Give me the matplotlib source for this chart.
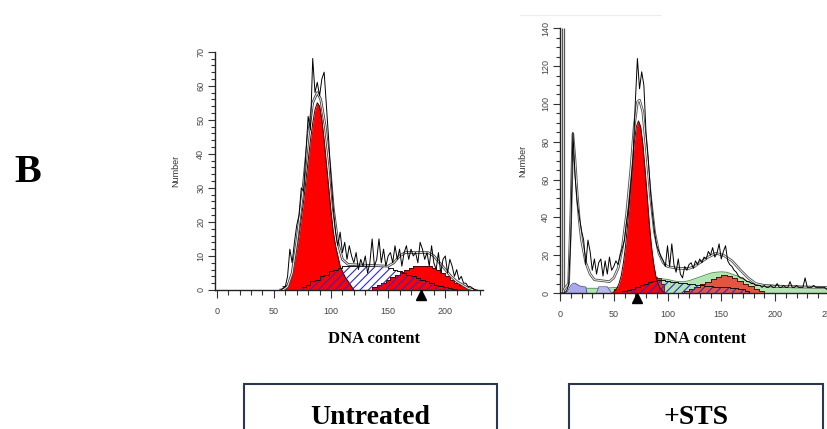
import matplotlib
matplotlib.use("Agg")
import matplotlib.pyplot as plt
import numpy as np
from matplotlib.patches import Rectangle
from matplotlib.lines import Line2D
from matplotlib.transforms import offset_copy
from matplotlib.ticker import MultipleLocator

plt.rcParams['hatch.linewidth'] = 0.8

# ---------------- Untreated panel data ----------------
ut_raw_start, ut_raw_step = 56, 2
ut_raw_y = [0, 0.5, 1, 4, 12, 8, 14, 19, 22, 30,
            29, 40, 51, 47, 68, 58, 61, 57, 62, 64,
            54, 44, 33, 24, 17, 13, 17, 11, 14, 9,
            13, 10, 8, 11, 6, 9, 7, 10, 5, 8,
            15, 7, 9, 15, 8, 12, 7, 10, 11, 8,
            13, 9, 12, 7, 11, 13, 9, 12, 10, 11,
            8, 14, 12, 9, 11, 7, 13, 8, 6, 11,
            5, 9, 10, 5, 9, 7, 4, 6, 3, 4,
            2, 2, 1, 1, 0.5, 0, 0]
ut_fit_x = [56, 58, 62, 66, 70, 75, 80, 84, 88, 91, 95, 99, 102, 106, 110, 115,
            150, 155, 160, 165, 185, 190, 195, 200, 205, 210, 215, 220, 225]
ut_fit_y = [0, 0, 1, 5, 14, 28, 45, 55, 58, 56, 48, 36, 24, 14, 9, 7.5,
            7, 8, 10, 11, 11, 10, 8, 6, 4, 2.5, 1.5, 0.5, 0]
ut_g1_start, ut_g1_step = 58, 2
ut_g1_y = [1, 1, 1.5, 3, 5, 8, 12, 16, 21, 26, 32, 38, 44, 49, 53, 55,
           54, 50, 44, 37, 30, 23, 17, 13, 10, 7, 5.5, 4, 3, 2, 1, 0]
ut_s_x = [75, 78, 82, 86, 90, 94, 98, 102, 106, 110, 150, 154, 158, 162, 166,
          170, 174, 178, 182, 186, 190, 194, 198, 202, 206, 210]
ut_s_y = [1, 1.5, 2.5, 3, 4, 4.5, 5.5, 6, 6.5, 7, 6.5, 6, 5.5, 5, 4.5,
          4, 3.5, 3, 2.5, 2, 1.5, 1.2, 1, 0.5, 0.3, 0]
ut_g2_x = [132, 136, 140, 144, 148, 152, 156, 160, 164, 168, 172, 176, 180,
           184, 188, 192, 196, 200, 204, 208, 212, 216, 220, 224, 226]
ut_g2_y = [0, 0.8, 1.5, 2.2, 3, 3.7, 4.5, 5.3, 6, 6.6, 7, 7, 7,
           7, 6.5, 6, 5, 4, 3, 2.2, 1.5, 1, 0.6, 0.3, 0]
ut_marker = 179

# ---------------- +STS panel data ----------------
sts_raw_start, sts_raw_step = 0, 2
sts_raw_y = [0, 0, 0, 1, 4, 30, 85, 62, 48, 40,
             33, 28, 15, 28, 22, 12, 18, 10, 16, 18,
             9, 17, 10, 19, 12, 14, 17, 15, 20, 24,
             28, 38, 46, 58, 72, 100, 124, 108, 117, 110,
             85, 72, 55, 42, 32, 25, 22, 19, 17, 14,
             25, 14, 26, 15, 11, 18, 10, 8, 14, 12,
             15, 16, 13, 17, 15, 18, 16, 19, 18, 22,
             20, 24, 19, 21, 26, 18, 22, 25, 17, 15,
             14, 12, 11, 9, 8, 8, 7, 6, 6, 5,
             5, 4, 4, 4, 3, 4, 3, 3, 4, 3,
             3, 5, 3, 3, 4, 3, 3, 6, 3, 3,
             4, 3, 3, 3, 8, 3, 3, 3, 4, 3,
             3, 3, 3, 3, 2, 2, 2, 2, 2]
sts_offscale_bins = [2, 4]
sts_fit_x = [4, 8, 10, 12, 14, 16, 18, 20, 24, 28, 32, 46, 50, 54, 58, 62, 66, 69, 72, 74,
             77, 80, 84, 88, 92, 96, 100, 110, 120, 125, 130, 138, 145, 152, 160, 168, 175,
             182, 190, 200, 220, 240, 260]
sts_fit_y = [2, 5, 40, 84, 70, 52, 38, 28, 16, 10, 7, 6, 8, 13, 24, 42, 66, 88, 101, 102,
             96, 78, 52, 32, 21, 16, 14, 13, 13, 14, 16, 19, 21, 20, 17, 12, 8,
             5, 4, 3.5, 3.2, 3, 3]
sts_debris_x = [6, 8, 10, 12, 14, 16, 18, 20, 22, 24, 25]
sts_debris_y = [0, 2, 4, 5, 5.2, 4.5, 3.8, 3.5, 3.3, 3.2, 0]
sts_debris2_x = [34, 36, 44, 48]
sts_debris2_y = [0, 3.3, 3.3, 0]
sts_green_x = [22, 24, 30, 40, 48, 56, 64, 72, 80, 86, 90, 95, 100, 105, 110, 115, 120, 125,
               130, 135, 140, 145, 150, 155, 160, 165, 170, 175, 180, 190, 200, 210, 220,
               230, 240, 250, 260]
sts_green_y = [0, 2.5, 2.5, 2.5, 2.8, 3, 3.5, 4.5, 5.5, 6.5, 7, 7.5, 7.2, 6.5, 6, 6, 6.5, 7.5,
               8.5, 9.5, 10.5, 11, 11.2, 11, 10, 9, 7.5, 6, 5, 4.5, 4.2, 4, 3.8,
               3.6, 3.5, 3.3, 3.2]
sts_dark_x = [48, 50, 54, 58, 62, 66, 70, 74, 78, 82, 86, 90, 94, 97]
sts_dark_y = [0, 2, 2.5, 3, 3.5, 3.5, 4, 5, 6.5, 8, 8.5, 8, 5, 0]
sts_g1_start, sts_g1_step = 49, 2
sts_g1_y = [0, 1.2, 2.6, 5.1, 9.3, 16, 25, 37, 52, 66, 79, 88, 91, 88, 79, 66, 52, 37,
            25, 16, 9.3, 5.1, 2.6, 1.2, 0]
sts_s_x = [58, 62, 66, 70, 74, 78, 82, 86, 90, 94, 98, 102, 110, 118, 126, 134, 142, 150,
           158, 166, 172, 176]
sts_s_y = [1, 1.5, 2, 3, 4, 5, 6, 6.5, 7, 7, 6.5, 6, 5.5, 5, 4, 3.5, 3, 3,
           2.5, 2, 1, 0]
sts_g2_x = [110, 115, 120, 125, 130, 135, 140, 145, 150, 155, 160, 165, 170, 175, 180, 185, 190]
sts_g2_y = [0, 1, 2, 3.2, 4.5, 6, 7.5, 8.5, 9.5, 9, 8, 6.5, 5, 3.5, 2.2, 1, 0]
sts_marker = 72

W, H = 827, 429
fig = plt.figure(figsize=(W / 100, H / 100), dpi=100)
fig.patch.set_facecolor('white')

SANS = ['Liberation Sans', 'DejaVu Sans']
SERIF = ['Liberation Serif', 'DejaVu Serif']


def px_axes(x0, x1, ytop, ybot):
    return fig.add_axes([x0 / W, 1 - ybot / H, (x1 - x0) / W, (ybot - ytop) / H])


def style(ax, xmaj, xmin, ymaj, ymin, ylab_x):
    for s in ('top', 'right'):
        ax.spines[s].set_visible(False)
    for s in ('left', 'bottom'):
        ax.spines[s].set_linewidth(1.0)
        ax.spines[s].set_color('#222222')
    ax.xaxis.set_major_locator(MultipleLocator(xmaj))
    ax.xaxis.set_minor_locator(MultipleLocator(xmin))
    ax.yaxis.set_major_locator(MultipleLocator(ymaj))
    ax.yaxis.set_minor_locator(MultipleLocator(ymin))
    ax.tick_params(axis='x', which='major', length=6, width=0.8, color='#333333',
                   labelsize=6.5, labelcolor='#444444', pad=6)
    ax.tick_params(axis='x', which='minor', length=3.5, width=0.8, color='#333333')
    ax.tick_params(axis='y', which='major', length=5, width=0.8, color='#333333',
                   labelsize=6.5, labelcolor='#444444', pad=2)
    ax.tick_params(axis='y', which='minor', length=3, width=0.8, color='#333333')
    for lab in ax.get_yticklabels():
        lab.set_rotation(90)
        lab.set_va('center')
        lab.set_family(SANS)
    for lab in ax.get_xticklabels():
        lab.set_family(SANS)
    ax.set_ylabel('Number', fontsize=6.5, color='#333333', family=SANS)
    ax.yaxis.set_label_coords(ylab_x, 0.5)
    ax.set_facecolor('none')


def hatch_fill(ax, x, y, z):
    ax.fill_between(x, y, step='post', facecolor='none', edgecolor='#2a2ad0',
                    hatch='////', linewidth=0, zorder=z)
    ax.step(x, y, where='post', color='#111111', lw=0.7, zorder=z + 0.1)


# ---------------- Left panel ----------------
axL = px_axes(215, 483, 51.7, 290)
axL.set_xlim(-1.5, 233)
axL.set_ylim(0, 70)

ut_raw_x = ut_raw_start + ut_raw_step * np.arange(len(ut_raw_y))
ut_g1_x = ut_g1_start + ut_g1_step * np.arange(len(ut_g1_y))

axL.fill_between(ut_g2_x, ut_g2_y, step='post', color='#ff0000', lw=0, zorder=2)
axL.step(ut_g2_x, ut_g2_y, where='post', color='#5a0000', lw=0.7, zorder=2.1)
axL.fill_between(ut_g1_x, ut_g1_y, color='#ff0000', lw=0, zorder=2.5)
axL.plot(ut_g1_x, ut_g1_y, color='#330000', lw=0.7, zorder=2.6)
hatch_fill(axL, ut_s_x, ut_s_y, 3)
axL.plot(ut_fit_x, ut_fit_y, color='#444444', lw=1.9, zorder=4)
axL.plot(ut_fit_x, ut_fit_y, color='white', lw=0.6, zorder=4.1)
axL.plot(ut_raw_x, ut_raw_y, color='black', lw=0.7, zorder=5)
axL.plot([ut_marker], [0], marker='^', ms=7, color='black', clip_on=False, zorder=6,
         transform=offset_copy(axL.transData, fig=fig, y=-5, units='dots'))
style(axL, 50, 10, 10, 2, -0.13)

# ---------------- Right panel ----------------
axR = px_axes(560, 560 + 260 * 1.075, 28.3, 293)
axR.set_xlim(0, 260)
axR.set_ylim(0, 140)

sts_raw_x = sts_raw_start + sts_raw_step * np.arange(len(sts_raw_y))
sts_g1_x = sts_g1_start + sts_g1_step * np.arange(len(sts_g1_y))

axR.fill_between(sts_green_x, sts_green_y, color='#b2e4b2', lw=0, zorder=1)
axR.plot(sts_green_x, sts_green_y, color='#3f8a3f', lw=0.6, zorder=1.1)
axR.fill_between(sts_debris_x, sts_debris_y, color='#a8a8ec', lw=0, zorder=1.5)
axR.plot(sts_debris_x, sts_debris_y, color='#4a4a9a', lw=0.6, zorder=1.6)
axR.fill_between(sts_debris2_x, sts_debris2_y, color='#b8b8ee', lw=0, zorder=1.5)
axR.plot(sts_debris2_x, sts_debris2_y, color='#4a4a9a', lw=0.5, zorder=1.6)
axR.fill_between(sts_g2_x, sts_g2_y, step='post', color='#e2553f', lw=0, zorder=2)
axR.step(sts_g2_x, sts_g2_y, where='post', color='#4a1010', lw=0.7, zorder=2.1)
axR.fill_between(sts_dark_x, sts_dark_y, step='post', color='#d8383a', lw=0, zorder=2.2)
axR.step(sts_dark_x, sts_dark_y, where='post', color='#4a1010', lw=0.6, zorder=2.3)
axR.fill_between(sts_g1_x, sts_g1_y, color='#ff0000', lw=0, zorder=2.5)
axR.plot(sts_g1_x, sts_g1_y, color='#330000', lw=0.7, zorder=2.6)
hatch_fill(axR, sts_s_x, sts_s_y, 3)
axR.vlines(sts_offscale_bins, 0, 140, color='#555555', lw=0.9, zorder=4)
axR.plot(sts_fit_x, sts_fit_y, color='#555555', lw=1.9, zorder=4)
axR.plot(sts_fit_x, sts_fit_y, color='white', lw=0.6, zorder=4.1)
axR.plot(sts_raw_x, sts_raw_y, color='black', lw=0.7, zorder=5)
axR.plot([sts_marker], [0], marker='^', ms=7, color='black', clip_on=False, zorder=6,
         transform=offset_copy(axR.transData, fig=fig, y=-5, units='dots'))
style(axR, 50, 10, 20, 5, -0.118)

# ---------------- Figure texts & boxes ----------------
fig.add_artist(Line2D([520 / W, 660 / W], [1 - 15 / H, 1 - 15 / H],
                      color='#ececec', lw=0.8))
fig.text(28 / W, 1 - 173 / H, 'B', fontsize=29, fontweight='bold', family=SERIF,
         ha='center', va='center')
fig.text(374 / W, 1 - 339 / H, 'DNA content', fontsize=12, fontweight='bold',
         family=SERIF, ha='center', va='center')
fig.text(700 / W, 1 - 339 / H, 'DNA content', fontsize=12, fontweight='bold',
         family=SERIF, ha='center', va='center')

box_labels = ['Untreated', '+STS']
box_left = [244, 569]
box_right = [497, 823]
for lab, x0, x1 in zip(box_labels, box_left, box_right):
    fig.add_artist(Rectangle((x0 / W, 1 - 445 / H), (x1 - x0) / W, (445 - 384) / H,
                             transform=fig.transFigure, fill=False,
                             edgecolor='#2a3852', lw=1.5))
    fig.text((x0 + x1) / 2 / W, 1 - 424 / H, lab, fontsize=20, fontweight='bold',
             family=SERIF, ha='center', va='baseline')

fig.savefig('out.png', dpi=100, facecolor='white')
